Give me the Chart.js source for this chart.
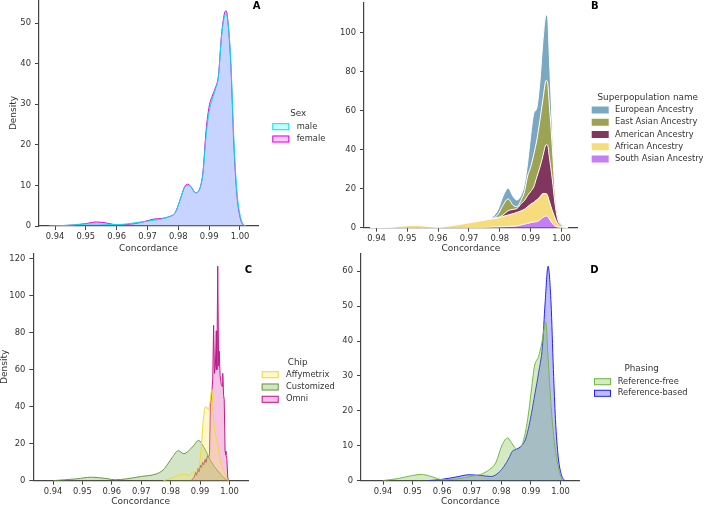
<!DOCTYPE html>
<html><head><meta charset="utf-8">
<script src="https://cdn.jsdelivr.net/npm/chart.js@4.4.1/dist/chart.umd.min.js"></script>
<style>
html,body{margin:0;padding:0;background:#fff;}
body{width:704px;height:506px;position:relative;overflow:hidden;}
canvas{position:absolute;}
</style></head><body>
<canvas id="cA" width="352" height="253" style="left:0;top:0"></canvas>
<canvas id="cB" width="374" height="253" style="left:330px;top:0"></canvas>
<canvas id="cC" width="352" height="253" style="left:0;top:253px"></canvas>
<canvas id="cD" width="374" height="253" style="left:330px;top:253px"></canvas>
<script>
// ---------- shared tick values ----------
const xTickValues = [0.94, 0.95, 0.96, 0.97, 0.98, 0.99, 1.00];
const yTicksA = [0, 10, 20, 30, 40, 50];
const yTicksB = [0, 20, 40, 60, 80, 100];
const yTicksC = [0, 20, 40, 60, 80, 100, 120];
const yTicksD = [0, 10, 20, 30, 40, 50, 60];

// ---------- Panel A : Sex ----------
const sexLabels = ['male', 'female'];
const xA = [0.938,0.942,0.946,0.950,0.9535,0.957,0.960,0.963,0.966,0.969,0.972,0.975,0.977,0.979,0.9805,0.982,0.983,0.984,0.9856,0.987,0.988,0.989,0.990,0.991,0.992,0.993,0.994,0.995,0.9955,0.996,0.997,0.998,0.999,1.000,1.001,1.002];
const maleA = [0,0.1,0.25,0.5,0.5,0.4,0.35,0.5,0.8,1.1,1.4,1.8,2.3,3.3,6.3,9.5,10.0,9.7,8.2,9.3,13.0,22.3,28.2,31.2,33.6,36.8,46.5,51.8,52.2,50.8,41.0,21.5,8.5,2.8,0.5,0];
const femaleA = [0,0.1,0.25,0.6,1.0,0.7,0.3,0.35,0.6,1.1,1.7,1.9,2.3,3.3,6.3,9.6,10.3,9.8,8.2,9.3,13.4,23.5,29.5,32.0,34.0,37.0,47.0,52.5,53.0,51.0,40.0,20.0,7.5,2.2,0.3,0];

// ---------- Panel B : Superpopulation (stacked) ----------
const superpopLabels = ['European Ancestry','East Asian Ancestry','American Ancestry','African Ancestry','South Asian Ancestry'];
const xB = [0.938,0.942,0.946,0.950,0.953,0.956,0.960,0.965,0.970,0.9735,0.9767,0.978,0.9795,0.981,0.9827,0.9843,0.9855,0.987,0.988,0.989,0.990,0.991,0.992,0.993,0.994,0.995,0.9955,0.996,0.997,0.998,0.999,1.000,1.001,1.002];
const southAsianB = [0,0,0,0,0,0,0,0,0.05,0.1,0.2,0.3,0.4,0.5,0.6,0.8,0.9,1.4,1.8,2.2,2.6,2.9,3.1,4.0,5.3,6.0,5.7,4.6,2.3,0.7,0.2,0.05,0,0];
const africanB = [0,0.15,0.5,1.0,1.2,0.8,0.4,1.2,2.45,3.3,4.1,4.3,4.6,5.3,5.9,6.4,6.9,7.3,7.7,8.6,9.4,10.1,11.2,11.8,12.2,11.5,10.8,9.2,6.5,3.9,1.3,0.45,0.1,0];
const americanB = [0,0,0,0,0,0,0,0,0,0,0,0.2,0.3,0.7,2.2,2.2,2.0,3.8,4.5,5.7,6.5,8.0,11.7,15.2,19.5,25.0,25.8,23.2,16.2,6.4,1.5,0.5,0.1,0];
const eastAsianB = [0,0,0,0,0,0,0,0,0,0,0,0.2,1.7,5.0,6.0,2.1,1.0,2.0,4.5,10.0,12.5,16.5,19.0,24.0,29.0,33.0,31.7,27.0,17.0,5.0,1.5,0.5,0.1,0];
const europeanB = [0,0,0,0,0,0,0,0,0,0,0,1.0,2.5,4.5,5.5,4.5,3.4,2.5,4.0,6.5,16.0,21.0,16.5,20.0,30.0,33.5,34.0,26.0,10.0,3.0,1.1,0.3,0.1,0];

// ---------- Panel C : Chip ----------
const chipLabels = ['Affymetrix', 'Customized', 'Omni'];
const xAffy = [0.9775,0.9800,0.9820,0.9843,0.9860,0.9877,0.9894,0.9900,0.9906,0.9911,0.9919,0.9928,0.9934,0.9940,0.9945,0.9950,0.9957,0.9968,0.9980,0.9990,0.9997];
const affyC = [0,1.2,2.5,3.6,2.8,4.7,5.9,11.4,22.2,33.0,40.2,38.4,43.0,49.6,35.0,27.0,22.0,11.5,5.5,1.5,0];
const xCust = [0.940,0.944,0.948,0.953,0.958,0.961,0.965,0.970,0.975,0.9775,0.979,0.9805,0.9826,0.9845,0.986,0.9877,0.9895,0.9911,0.9923,0.994,0.9957,0.9974,0.9985,0.9995];
const custC = [0,0.5,1.0,1.9,1.2,0.5,1.0,2.3,3.6,5.9,9.0,12.5,16.2,14.6,16.0,18.8,21.8,18.6,15.0,9.6,5.9,2.7,1.0,0];
const xOmni = [0.9870,0.9880,0.9885,0.9888,0.9893,0.9896,0.9901,0.9904,0.9909,0.9912,0.9917,0.9920,0.9925,0.9928,0.9932,0.9935,0.9940,0.9943,0.9946,0.9949,0.9952,0.9955,0.9957,0.9960,0.9963,0.9965,0.9968,0.9972,0.9975,0.9977,0.9980,0.9982,0.9985,0.9988,0.9991,0.9994,0.9996];
const omniC = [0,2,4.5,3,6.5,5,8.5,7,10,8.5,11.5,10,13.5,12.5,14,40,48,55,84,58,62,81,60,116,62,70,57,52,51,58,46,44,16,14,12,2,0];

// ---------- Panel D : Phasing ----------
const phasingLabels = ['Reference-free', 'Reference-based'];
const xFree = [0.940,0.945,0.950,0.953,0.956,0.960,0.965,0.970,0.973,0.976,0.9781,0.9803,0.982,0.9842,0.9853,0.987,0.9881,0.9892,0.9903,0.9912,0.9926,0.9937,0.995,0.9959,0.997,0.9981,0.9992,1.0006];
const freeD = [0.05,0.6,1.5,1.8,1.3,0.3,0.5,1.3,1.8,3.2,5.1,10.3,12.2,9.9,8.9,10.3,13.7,19.4,27.0,32.8,35.6,39.5,45.4,33.7,19.4,9.9,4.1,0];
const xBased = [0.955,0.960,0.965,0.969,0.973,0.9766,0.9792,0.9809,0.9826,0.9837,0.9848,0.9864,0.9881,0.9898,0.9914,0.9926,0.9939,0.9948,0.9958,0.9968,0.9976,0.9983,0.9992,1.0003,1.0014];
const basedD = [0,0.4,1.1,1.7,1.5,1.2,2.4,4.1,6.5,8.4,8.9,9.7,11.7,17.5,25.1,30.9,38.5,50.9,61.4,50.9,31.8,17.5,7.0,1.7,0];

// ---------- helpers ----------
const pts = (xs, ys) => xs.map((x, i) => ({x: x, y: ys[i]}));
const FONT = 'DejaVu Sans';
const TXT = '#333';
const AX = '#444';

function legendPlugin(L) {
  return {
    id: 'panelLegend',
    afterDraw(chart) {
      const ctx = chart.ctx;
      ctx.save();
      ctx.textBaseline = 'middle';
      ctx.textAlign = 'center';
      ctx.fillStyle = '#000';
      ctx.font = 'bold 10px "' + FONT + '"';
      ctx.fillText(L.letter, L.letterX, L.letterY);
      ctx.fillStyle = TXT;
      ctx.font = '8.8px "' + FONT + '"';
      ctx.fillText(L.title, L.titleX, L.titleY);
      ctx.textAlign = 'left';
      ctx.font = '8.3px "' + FONT + '"';
      L.items.forEach((it, i) => {
        const y = L.rowY + i * L.rowGap;
        ctx.fillStyle = it.fill;
        ctx.fillRect(L.patchX, y - 3.5, 17, 7);
        if (it.border) {
          ctx.strokeStyle = it.border;
          ctx.lineWidth = 1;
          ctx.strokeRect(L.patchX + 0.5, y - 3, 16, 6);
        }
        ctx.fillStyle = TXT;
        ctx.fillText(it.label, L.textX, y);
      });
      ctx.restore();
    }
  };
}

function makeChart(id, c) {
  return new Chart(document.getElementById(id), {
    type: 'line',
    data: {datasets: c.datasets},
    options: {
      responsive: false,
      animation: false,
      events: [],
      layout: {padding: {left: 0, top: c.padTop, right: c.padRight, bottom: 0}},
      plugins: {legend: {display: false}, tooltip: {enabled: false}},
      elements: {point: {radius: 0}, line: {borderWidth: 1}},
      scales: {
        x: {
          type: 'linear', min: c.xMin, max: c.xMax, bounds: 'data',
          afterBuildTicks: s => { s.ticks = xTickValues.map(v => ({value: v})); },
          afterFit: s => { s.height = c.xHeight; s.paddingLeft = 0; s.paddingRight = 0; s.paddingTop = 0; s.paddingBottom = 0; },
          ticks: {callback: v => Number(v).toFixed(2), font: {family: FONT, size: 8.4}, color: TXT, padding: 2, maxRotation: 0, autoSkip: false},
          grid: {drawOnChartArea: false, drawTicks: true, tickLength: 4, color: AX, tickWidth: 1},
          border: {display: true, color: AX, width: 1.2},
          title: {display: true, text: 'Concordance', font: {family: FONT, size: 9, lineHeight: 1}, color: TXT, padding: {top: 0, bottom: 0}}
        },
        y: {
          type: 'linear', min: 0, max: c.yMax, bounds: 'data', stacked: !!c.stacked,
          afterBuildTicks: s => { s.ticks = c.yTicks.map(v => ({value: v})); },
          afterFit: s => { s.width = c.yWidth; s.paddingLeft = 0; s.paddingRight = 0; s.paddingTop = 0; s.paddingBottom = 0; },
          ticks: {font: {family: FONT, size: 8.4}, color: TXT, padding: 4, autoSkip: false},
          grid: {drawOnChartArea: false, drawTicks: true, tickLength: 4, color: AX, tickWidth: 1},
          border: {display: true, color: AX, width: 1.2},
          title: {display: !!c.yTitle, text: 'Density', font: {family: FONT, size: 9, lineHeight: 1}, color: TXT, padding: {top: c.yTitlePad || 0, bottom: 0}}
        }
      }
    },
    plugins: [legendPlugin(c.legend)]
  });
}

// ---------- Panel A ----------
const colA = {male: {b: 'rgb(0,225,235)', f: 'rgba(0,255,255,0.22)'}, female: {b: 'rgb(225,0,225)', f: 'rgba(255,0,255,0.22)'}};
makeChart('cA', {
  datasets: [
    {label: sexLabels[0], data: pts(xA, maleA), borderColor: colA.male.b, backgroundColor: colA.male.f, fill: 'origin', cubicInterpolationMode: 'monotone'},
    {label: sexLabels[1], data: pts(xA, femaleA), borderColor: colA.female.b, backgroundColor: colA.female.f, fill: 'origin', cubicInterpolationMode: 'monotone'}
  ],
  xMin: 0.934810, xMax: 1.005838, yMax: 55.67, yTicks: yTicksA,
  yWidth: 39, xHeight: 27, padTop: 0, padRight: 94, yTitle: true, yTitlePad: 9.5,
  legend: {letter: 'A', letterX: 256.7, letterY: 6.7, title: 'Sex', titleX: 298.3, titleY: 114,
    patchX: 272.3, textX: 296.7, rowY: 126.7, rowGap: 12.3,
    items: [
      {label: sexLabels[0], fill: 'rgba(0,255,255,0.22)', border: 'rgb(0,225,235)'},
      {label: sexLabels[1], fill: 'rgba(255,0,255,0.22)', border: 'rgb(225,0,225)'}
    ]}
});

// ---------- Panel B ----------
const colB = ['#7aa7c2', '#9ca355', '#80365d', '#f7dc7c', '#c47ff5'];
makeChart('cB', {
  datasets: [
    {label: superpopLabels[4], data: pts(xB, southAsianB), backgroundColor: colB[4], borderColor: '#fff', borderWidth: 1, fill: 'origin', cubicInterpolationMode: 'monotone'},
    {label: superpopLabels[3], data: pts(xB, africanB), backgroundColor: colB[3], borderColor: '#fff', borderWidth: 1, fill: '-1', cubicInterpolationMode: 'monotone'},
    {label: superpopLabels[2], data: pts(xB, americanB), backgroundColor: colB[2], borderColor: '#fff', borderWidth: 1, fill: '-1', cubicInterpolationMode: 'monotone'},
    {label: superpopLabels[1], data: pts(xB, eastAsianB), backgroundColor: colB[1], borderColor: '#fff', borderWidth: 1, fill: '-1', cubicInterpolationMode: 'monotone'},
    {label: superpopLabels[0], data: pts(xB, europeanB), backgroundColor: colB[0], borderColor: '#fff', borderWidth: 1, fill: '-1', cubicInterpolationMode: 'monotone'}
  ],
  stacked: true,
  xMin: 0.935946, xMax: 1.005255, yMax: 115.2, yTicks: yTicksB,
  yWidth: 34, xHeight: 25.3, padTop: 3, padRight: 126.3, yTitle: false,
  legend: {letter: 'B', letterX: 264.7, letterY: 6.7, title: 'Superpopulation name', titleX: 317.7, titleY: 97.3,
    patchX: 261.7, textX: 285, rowY: 110, rowGap: 12.25,
    items: superpopLabels.map((l, i) => ({label: l, fill: colB[i]}))}
});

// ---------- Panel C ----------
const colC = {
  affy: {b: 'rgb(240,218,50)', f: 'rgba(250,230,90,0.3)'},
  cust: {b: 'rgb(105,155,60)', f: 'rgba(110,165,70,0.3)'},
  omni: {b: 'rgb(195,25,140)', f: 'rgba(225,70,175,0.32)'}
};
makeChart('cC', {
  datasets: [
    {label: chipLabels[0], data: pts(xAffy, affyC), borderColor: colC.affy.b, backgroundColor: colC.affy.f, fill: 'origin', cubicInterpolationMode: 'monotone'},
    {label: chipLabels[1], data: pts(xCust, custC), borderColor: colC.cust.b, backgroundColor: colC.cust.f, fill: 'origin', cubicInterpolationMode: 'monotone'},
    {label: chipLabels[2], data: pts(xOmni, omniC), borderColor: colC.omni.b, backgroundColor: colC.omni.f, fill: 'origin', tension: 0}
  ],
  xMin: 0.933300, xMax: 1.006288, yMax: 123.1, yTicks: yTicksC,
  yWidth: 33.3, xHeight: 25.3, padTop: 0, padRight: 104, yTitle: true, yTitlePad: 0,
  legend: {letter: 'C', letterX: 248.3, letterY: 17.7, title: 'Chip', titleX: 297.7, titleY: 109.7,
    patchX: 261.7, textX: 286, rowY: 121.7, rowGap: 12.3,
    items: [
      {label: chipLabels[0], fill: colC.affy.f, border: colC.affy.b},
      {label: chipLabels[1], fill: colC.cust.f, border: colC.cust.b},
      {label: chipLabels[2], fill: colC.omni.f, border: colC.omni.b}
    ]}
});

// ---------- Panel D ----------
const colD = {
  free: {b: 'rgb(115,185,70)', f: 'rgba(110,185,60,0.3)'},
  based: {b: 'rgb(35,35,245)', f: 'rgba(40,40,255,0.3)'}
};
makeChart('cD', {
  datasets: [
    {label: phasingLabels[0], data: pts(xFree, freeD), borderColor: colD.free.b, backgroundColor: colD.free.f, fill: 'origin', cubicInterpolationMode: 'monotone'},
    {label: phasingLabels[1], data: pts(xBased, basedD), borderColor: colD.based.b, backgroundColor: colD.based.f, fill: 'origin', cubicInterpolationMode: 'monotone'}
  ],
  xMin: 0.932562, xMax: 1.006491, yMax: 65.2, yTicks: yTicksD,
  yWidth: 31, xHeight: 25.3, padTop: 0, padRight: 124.3, yTitle: false,
  legend: {letter: 'D', letterX: 264.3, letterY: 17.7, title: 'Phasing', titleX: 311.7, titleY: 115.3,
    patchX: 264, textX: 287.7, rowY: 128.7, rowGap: 11.6,
    items: [
      {label: phasingLabels[0], fill: colD.free.f, border: colD.free.b},
      {label: phasingLabels[1], fill: colD.based.f, border: colD.based.b}
    ]}
});
</script>
</body></html>
